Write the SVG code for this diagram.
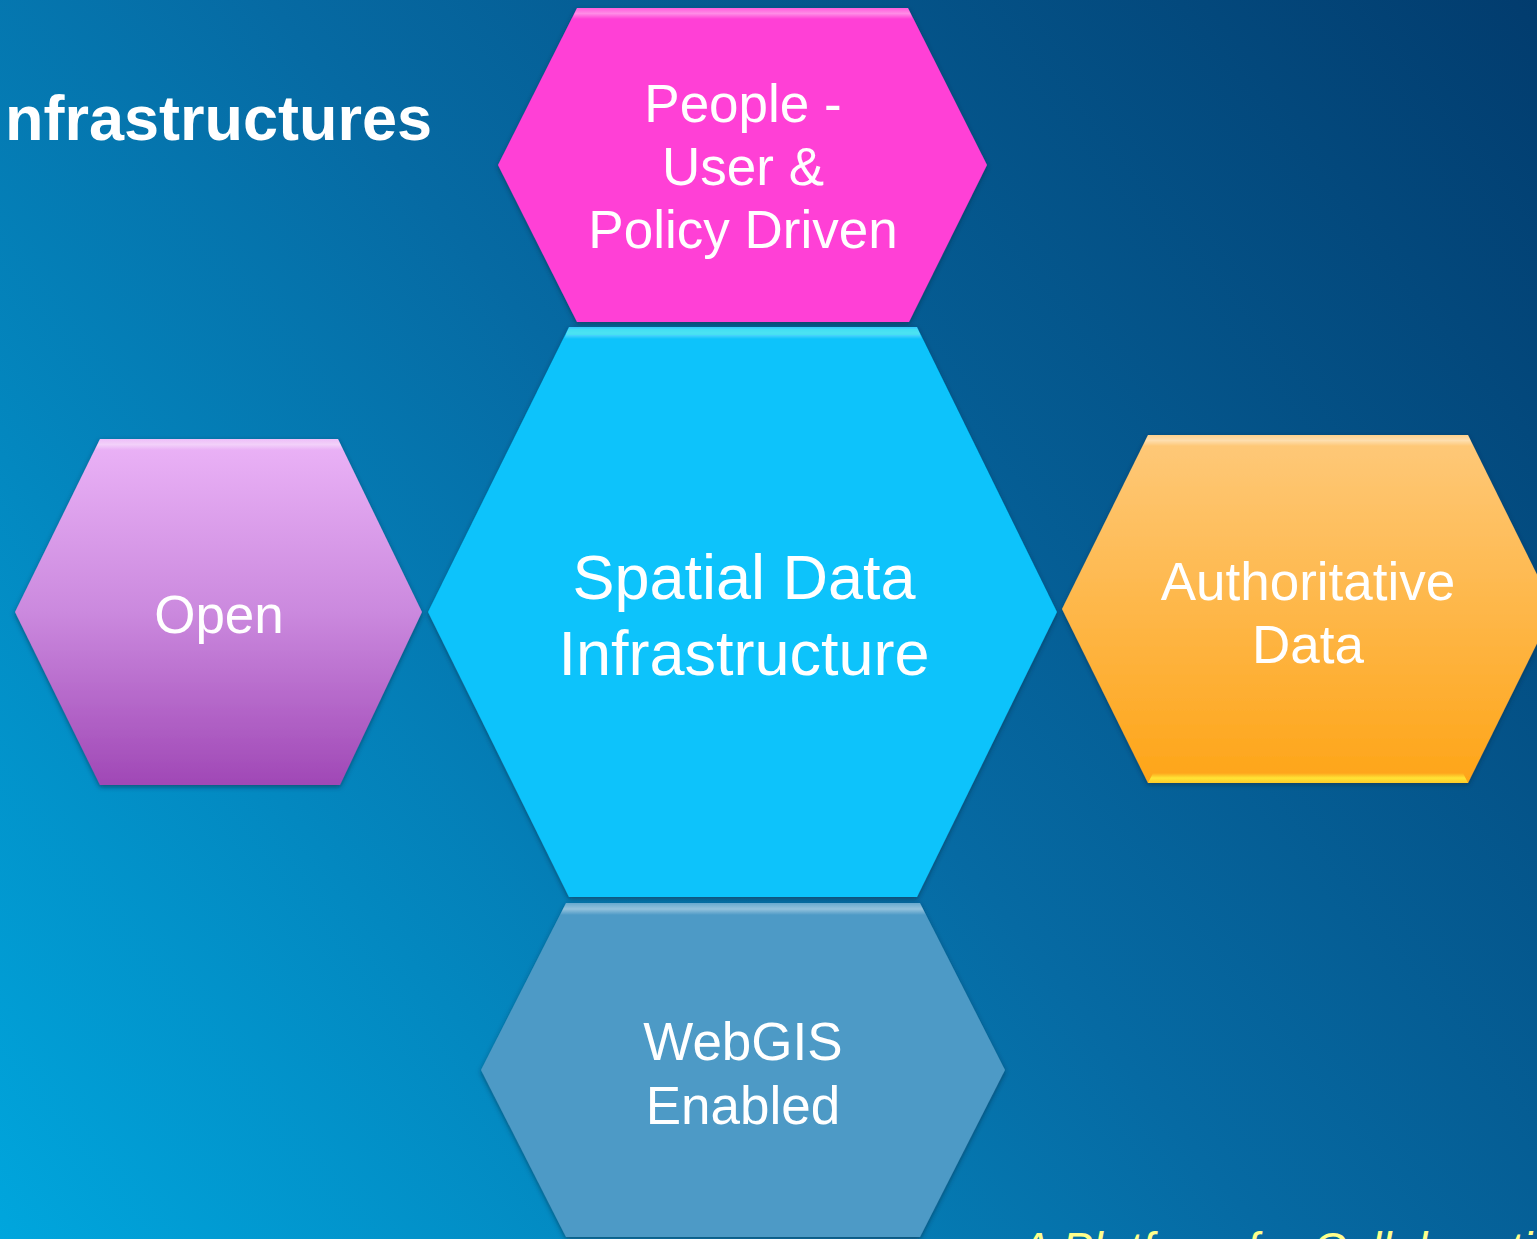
<svg xmlns="http://www.w3.org/2000/svg" width="1537" height="1239" viewBox="0 0 1537 1239">
  <defs>
    <linearGradient id="bg" gradientUnits="userSpaceOnUse" x1="0" y1="1239" x2="1537" y2="0">
      <stop offset="0" stop-color="#00a6dd"/>
      <stop offset="0.5" stop-color="#066aa3"/>
      <stop offset="1" stop-color="#023c6e"/>
    </linearGradient>
    <linearGradient id="gOpen" x1="0" y1="0" x2="0" y2="1">
      <stop offset="0" stop-color="#ebb3f7"/>
      <stop offset="0.5" stop-color="#cb89de"/>
      <stop offset="1" stop-color="#a048b6"/>
    </linearGradient>
    <linearGradient id="gAuth" x1="0" y1="0" x2="0" y2="1">
      <stop offset="0" stop-color="#fec97a"/>
      <stop offset="1" stop-color="#fea518"/>
    </linearGradient>
    <linearGradient id="hl" x1="0" y1="0" x2="0" y2="1">
      <stop offset="0" stop-color="#ffffff" stop-opacity="0.15"/>
      <stop offset="0.5" stop-color="#ffffff" stop-opacity="0.4"/>
      <stop offset="1" stop-color="#ffffff" stop-opacity="0"/>
    </linearGradient>
    <linearGradient id="hlY" x1="0" y1="0" x2="0" y2="1">
      <stop offset="0" stop-color="#ffe436" stop-opacity="0"/>
      <stop offset="0.5" stop-color="#ffe436" stop-opacity="1"/>
      <stop offset="1" stop-color="#ffe436" stop-opacity="0.6"/>
    </linearGradient>
    <filter id="sh" x="-10%" y="-10%" width="120%" height="120%">
      <feDropShadow dx="0" dy="2" stdDeviation="2.5" flood-color="#0a2a45" flood-opacity="0.6"/>
    </filter>
    <style>
      .lbl { font-family: "Liberation Sans", Arial, sans-serif; fill: #ffffff; text-anchor: middle; }
      .title { font-family: "Liberation Sans", Arial, sans-serif; fill: #ffffff; font-weight: bold; font-size: 63px; }
      .foot { font-family: "Liberation Sans", Arial, sans-serif; fill: #ffff8c; font-style: italic; font-size: 46px; }
      .bevel { fill: url(#hl); }
    </style>
  </defs>

  <rect x="0" y="0" width="1537" height="1239" fill="url(#bg)"/>

  <text class="title" x="5" y="140">nfrastructures</text>

  <g id="connectors"/>

  <g id="node-people">
    <polygon points="577,8 908,8 987,165 909,322 577,322 498,165" fill="#ff3fd6" filter="url(#sh)"/>
    <polygon class="bevel" points="577,8 908,8 913,19 572,19"/>
    <text class="lbl" font-size="53" x="743" y="122">People -</text>
    <text class="lbl" font-size="53" x="743" y="185">User &amp;</text>
    <text class="lbl" font-size="53" x="743" y="248">Policy Driven</text>
  </g>

  <g id="node-sdi">
    <polygon points="569,327 917,327 1057,612 917,897 569,897 428,612" fill="#08c3fb" filter="url(#sh)"/>
    <polygon points="569,327 917,327 922,339 564,339" fill="url(#hl)"/>
    <polygon points="569,329 917,329 920,335 566,335" fill="#3ee6ee" opacity="0.7"/>
    <text class="lbl" font-size="63" x="744" y="599">Spatial Data</text>
    <text class="lbl" font-size="63" x="744" y="675">Infrastructure</text>
  </g>

  <g id="node-open">
    <polygon points="100,439 338,439 422,612 340,785 100,785 15,612" fill="url(#gOpen)" filter="url(#sh)"/>
    <polygon class="bevel" points="100,439 338,439 343,450 95,450"/>
    <text class="lbl" font-size="53" x="219" y="633">Open</text>
  </g>

  <g id="node-authoritative">
    <polygon points="1148,435 1468,435 1554,609 1468,783 1148,783 1062,609" fill="url(#gAuth)" filter="url(#sh)"/>
    <polygon class="bevel" points="1148,435 1468,435 1473,446 1143,446"/>
    <polygon points="1153,773 1463,773 1468,783 1148,783" fill="url(#hlY)"/>
    <text class="lbl" font-size="53" x="1308" y="600">Authoritative</text>
    <text class="lbl" font-size="53" x="1308" y="663">Data</text>
  </g>

  <g id="node-webgis">
    <polygon points="566,903 920,903 1005,1070 920,1237 566,1237 481,1070" fill="#4e9ac6" filter="url(#sh)"/>
    <polygon class="bevel" points="566,903 920,903 926,915 560,915"/>
    <text class="lbl" font-size="53" x="743" y="1060">WebGIS</text>
    <text class="lbl" font-size="53" x="743" y="1124">Enabled</text>
  </g>

  <text class="foot" x="1020" y="1265">A Platform for Collaboration</text>
</svg>
